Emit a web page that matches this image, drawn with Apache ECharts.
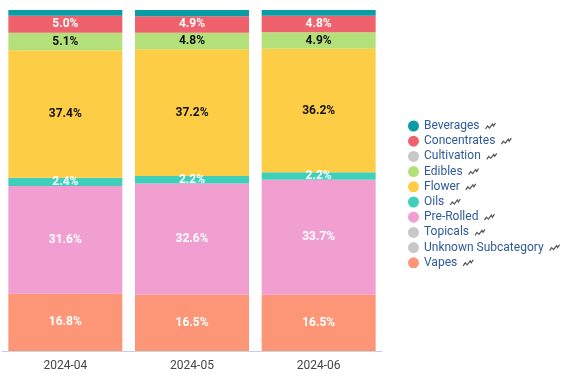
<!DOCTYPE html>
<html><head><meta charset="utf-8">
<script src="https://cdn.jsdelivr.net/npm/echarts@6/dist/echarts.min.js"></script>
<style>html,body{margin:0;padding:0;background:#fff}#c{width:568px;height:382px}</style>
</head><body><div id="c"></div>
<script>
const categories = ['2024-04', '2024-05', '2024-06'];
const seriesNames = ['Beverages','Concentrates','Cultivation','Edibles','Flower','Oils','Pre-Rolled','Topicals','Unknown Subcategory','Vapes'];
const beverages = [1.7, 1.8, 1.7];
const concentrates = [5.0, 4.9, 4.8];
const cultivation = [0, 0, 0];
const edibles = [5.1, 4.8, 4.9];
const flower = [37.4, 37.2, 36.2];
const oils = [2.4, 2.2, 2.2];
const preRolled = [31.6, 32.6, 33.7];
const topicals = [0, 0, 0];
const unknown = [0, 0, 0];
const vapes = [16.8, 16.5, 16.5];

const dataMap = {
  'Beverages': beverages, 'Concentrates': concentrates, 'Cultivation': cultivation,
  'Edibles': edibles, 'Flower': flower, 'Oils': oils, 'Pre-Rolled': preRolled,
  'Topicals': topicals, 'Unknown Subcategory': unknown, 'Vapes': vapes
};
const colors = {
  'Beverages': '#0a9ba7', 'Concentrates': '#f0616e', 'Cultivation': '#c8c8c8',
  'Edibles': '#b4e07a', 'Flower': '#fdcd45', 'Oils': '#40cfbb', 'Pre-Rolled': '#f09fd0',
  'Topicals': '#c8c8c8', 'Unknown Subcategory': '#c8c8c8', 'Vapes': '#fc9677'
};
const darkLabel = {'Edibles': true, 'Flower': true};
// stacking order bottom -> top
const stackOrder = ['Vapes','Pre-Rolled','Oils','Flower','Edibles','Concentrates','Beverages','Cultivation','Topicals','Unknown Subcategory'];

const squiggle = 'data:image/svg+xml;utf8,' + encodeURIComponent(
  '<svg xmlns="http://www.w3.org/2000/svg" width="12" height="8" viewBox="0 0 12 8"><polyline points="1,7 3,4 5,6 8,2 9,4 11,1" fill="none" stroke="#555" stroke-width="1.2"/></svg>');

const series = stackOrder.map(name => ({
  name: name,
  type: 'bar',
  stack: 'total',
  barCategoryGap: '10%',
  itemStyle: { color: colors[name] },
  label: {
    show: true,
    position: 'inside',
    fontFamily: 'Roboto',
    fontWeight: 'bold',
    fontSize: 12,
    color: darkLabel[name] ? '#111' : '#fff',
    formatter: p => p.value >= 2 ? p.value.toFixed(1) + '%' : ''
  },
  emphasis: { disabled: true },
  data: dataMap[name]
}));

const chart = echarts.init(document.getElementById('c'));
chart.setOption({
  animation: false,
  textStyle: { fontFamily: 'Roboto' },
  grid: { left: 2, right: 186, top: 10, bottom: 31 },
  xAxis: {
    type: 'category',
    data: categories,
    axisLine: { lineStyle: { color: '#c6d4e1' } },
    axisTick: { show: false },
    axisLabel: { color: '#444', fontSize: 12, margin: 9, fontFamily: 'Roboto' }
  },
  yAxis: { type: 'value', min: 0, max: 100, show: false },
  legend: {
    orient: 'vertical',
    left: 403,
    top: 115,
    icon: 'circle',
    itemWidth: 11,
    itemHeight: 11,
    itemGap: 3.2,
    data: seriesNames,
    formatter: n => '{n|' + n + '}{i|}',
    textStyle: {
      color: '#2b5797',
      fontSize: 12,
      fontFamily: 'Roboto',
      rich: {
        n: { color: '#2f5a9a', fontSize: 12, fontFamily: 'Roboto', padding: [0, 5, 0, 0] },
        i: { width: 12, height: 8, backgroundColor: { image: squiggle } }
      }
    }
  },
  series: series
});
</script></body></html>
